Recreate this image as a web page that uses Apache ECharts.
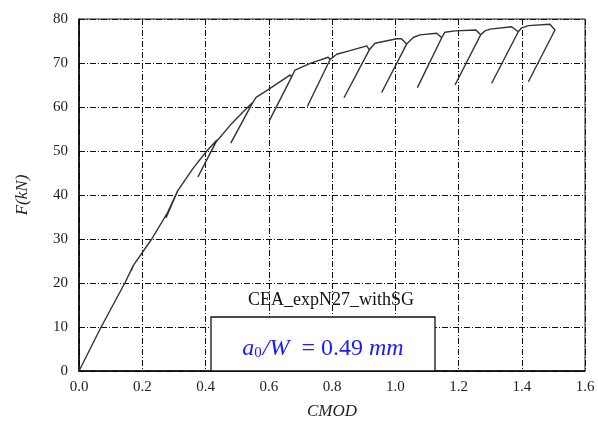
<!DOCTYPE html>
<html>
<head>
<meta charset="utf-8">
<script src="https://cdn.jsdelivr.net/npm/echarts@6/dist/echarts.min.js"></script>
<style>html,body{margin:0;padding:0;background:#fff}#c{width:598px;height:426px}</style>
</head>
<body>
<div id="c"></div>
<script>
const cmod = [0, 0.07, 0.145, 0.172, 0.165, 0.172, 0.23, 0.28, 0.313, 0.310, 0.275, 0.311, 0.36, 0.404, 0.436, 0.434, 0.376, 0.434, 0.48, 0.52, 0.549, 0.546, 0.48, 0.547, 0.56, 0.597, 0.668, 0.672, 0.602, 0.672, 0.683, 0.731, 0.788, 0.794, 0.722, 0.794, 0.815, 0.857, 0.910, 0.918, 0.838, 0.918, 0.936, 1.005, 1.020, 1.036, 0.957, 1.036, 1.057, 1.078, 1.131, 1.147, 1.070, 1.147, 1.157, 1.189, 1.255, 1.270, 1.189, 1.270, 1.284, 1.300, 1.368, 1.389, 1.305, 1.389, 1.400, 1.421, 1.489, 1.505, 1.421];
const force = [0, 10, 20, 24, 22.8, 24, 30, 36, 41.1, 40.6, 34.8, 40.8, 46, 50, 52.5, 52.1, 44.1, 52.1, 56, 59, 61.0, 60.6, 51.8, 60.7, 62.2, 63.9, 67.3, 66.8, 56.9, 66.8, 68.4, 69.9, 71.3, 70.8, 60.1, 70.8, 72.0, 72.8, 73.9, 73.0, 62.1, 73.0, 74.5, 75.5, 75.5, 74.3, 63.3, 74.3, 75.8, 76.4, 76.75, 75.75, 64.4, 75.75, 77.0, 77.3, 77.5, 76.4, 65.0, 76.4, 77.3, 77.7, 78.25, 77.1, 65.4, 77.1, 78.0, 78.5, 78.8, 77.5, 65.75];
const xTicks = {min: 0, max: 1.6, interval: 0.2};
const yTicks = {min: 0, max: 80, interval: 10};
const specimenLabel = 'CEA_expN27_withSG';
const a0W = '0.49';

const chart = echarts.init(document.getElementById('c'));
const dash = {color: '#111', width: 1, type: [6, 2, 1, 2]};
const serif = '"Liberation Serif", "DejaVu Serif", serif';
chart.setOption({
  animation: false,
  grid: {left: 79, right: 13, top: 19, bottom: 55, show: true, borderColor: '#222', borderWidth: 1},
  xAxis: {
    type: 'value', min: xTicks.min, max: xTicks.max, interval: xTicks.interval,
    name: 'CMOD', nameLocation: 'middle', nameGap: 32,
    nameTextStyle: {fontFamily: serif, fontStyle: 'italic', fontSize: 17, color: '#222'},
    axisLine: {show: true, onZero: false, lineStyle: {color: '#000', width: 1.5}},
    axisTick: {show: false},
    axisLabel: {fontFamily: serif, fontSize: 15, color: '#222', margin: 9, formatter: v => v.toFixed(1)},
    splitLine: {show: true, lineStyle: dash}
  },
  yAxis: {
    type: 'value', min: yTicks.min, max: yTicks.max, interval: yTicks.interval,
    name: 'F(kN)', nameLocation: 'middle', nameGap: 48,
    nameTextStyle: {fontFamily: serif, fontStyle: 'italic', fontSize: 17, color: '#222'},
    axisLine: {show: true, onZero: false, lineStyle: {color: '#000', width: 1.5}},
    axisTick: {show: false},
    axisLabel: {fontFamily: serif, fontSize: 15, color: '#222', margin: 11},
    splitLine: {show: true, lineStyle: dash}
  },
  graphic: [
    {type: 'text', x: 331, y: 300, style: {text: specimenLabel, fontFamily: serif, fontSize: 18, fill: '#111', align: 'center', verticalAlign: 'middle'}},
    {type: 'rect', shape: {x: 211, y: 317, width: 224, height: 54}, style: {fill: '#fff', stroke: '#111', lineWidth: 1.3}, z: 10},
    {type: 'text', z: 11, x: 323, y: 349, style: {
      align: 'center', verticalAlign: 'middle',
      rich: {
        i: {fontFamily: serif, fontStyle: 'italic', fontSize: 24, fill: '#1a1aff'},
        s: {fontFamily: serif, fontSize: 15, fill: '#1a1aff', padding: [9, 1, 0, 0]},
        n: {fontFamily: serif, fontSize: 24, fill: '#1a1aff'}
      },
      text: '{i|a}{s|0}{i|/W}{n|  = ' + a0W + ' }{i|mm}'
    }}
  ],
  series: [{
    type: 'line', showSymbol: false, symbol: 'none',
    lineStyle: {color: '#333', width: 1.4},
    data: cmod.map((c, i) => [c, force[i]]), z: 5
  }]
});
</script>
</body>
</html>
